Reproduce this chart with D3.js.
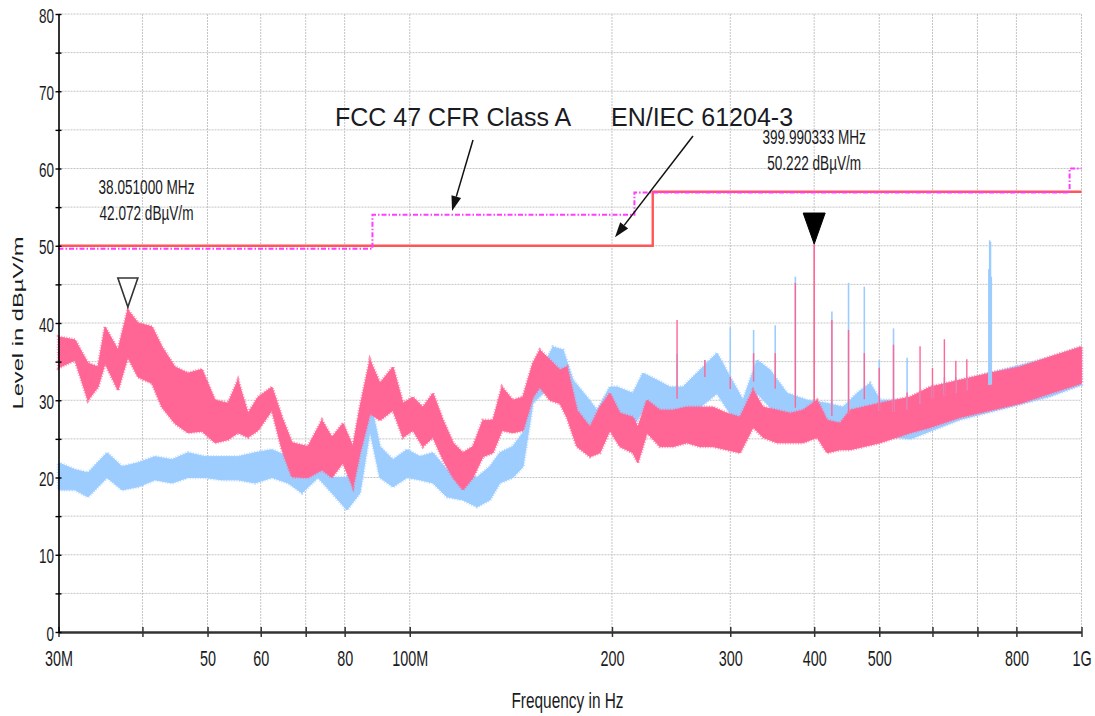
<!DOCTYPE html>
<html>
<head>
<meta charset="utf-8">
<script src="https://cdn.jsdelivr.net/npm/d3@7"></script>
<style>
  body { margin: 0; background: #fff; }
  text { font-family: "Liberation Sans", Arial, sans-serif; fill: #1a1a22; }
</style>
</head>
<body>
<svg id="chart" width="1095" height="716"></svg>
<script>
// ---- axis ticks ----
const xTickFreq = [30, 40, 50, 60, 70, 80, 100, 200, 300, 400, 500, 600, 700, 800, 1000];
const xTickText = ["30M", "", "50", "60", "", "80", "100M", "200", "300", "400", "500", "", "", "800", "1G"];
const yTickLevel = [0, 5, 10, 15, 20, 25, 30, 35, 40, 45, 50, 55, 60, 65, 70, 75, 80];
const yTickText = ["0", "", "10", "", "20", "", "30", "", "40", "", "50", "", "60", "", "70", "", "80"];

// ---- limit lines (MHz, dBµV/m) ----
const enFreq = [30, 230, 1000];
const enLevel = [50, 57, 57];
const fccFreq = [30, 88, 216, 960, 1000];
const fccLevel = [49.6, 54, 56.9, 60, 60];

// ---- measured spectrum, trace 1 (pink): frequency, lower and upper edge of the noise band ----
const pinkFreq = [30.0, 31.75, 33.19, 34.35, 35.19, 36.79, 38.05, 39.40, 41.34, 42.78, 44.72, 46.76, 49.06, 51.30, 53.63, 55.51, 57.44, 59.45, 62.36, 64.54, 66.79, 70.55, 74.02, 76.60, 79.54, 82.31, 84.31, 87.25, 90.29, 94.41, 97.70, 101.1, 104.6, 108.3, 112.1, 116.0, 120.0, 124.2, 128.5, 133.0, 137.2, 142.4, 147.4, 152.5, 156.2, 161.7, 167.3, 171.4, 177.4, 185.5, 191.9, 198.6, 205.5, 214.9, 218.6, 225.5, 235.7, 246.5, 258.6, 270.5, 282.8, 296.7, 310.3, 324.4, 335.7, 352.2, 368.3, 385.1, 404.0, 418.1, 437.1, 452.4, 501.4, 555.6, 595.1, 659.5, 730.9, 810.0, 897.7, 1000];
const pinkLow  = [34.2, 35.2, 30.0, 31.7, 34.8, 31.3, 35.6, 33.0, 32.2, 29.1, 27.0, 25.8, 26.0, 24.5, 24.9, 25.8, 25.2, 26.1, 28.7, 23.6, 20.1, 20.0, 21.0, 20.0, 21.9, 18.8, 23.2, 28.3, 27.4, 28.7, 25.2, 26.1, 24.0, 25.2, 22.3, 20.0, 18.4, 20.0, 22.7, 23.2, 26.1, 25.8, 26.1, 30.4, 31.7, 30.0, 29.6, 27.8, 24.0, 22.7, 23.2, 26.1, 24.0, 23.2, 21.9, 25.8, 24.0, 24.0, 24.5, 24.0, 24.0, 23.6, 23.2, 26.5, 25.2, 24.5, 24.5, 24.5, 25.2, 23.2, 23.6, 23.6, 24.5, 25.8, 26.5, 27.8, 28.7, 29.6, 30.9, 32.2];
const pinkHigh = [38.2, 37.8, 34.8, 34.3, 39.5, 36.5, 41.7, 40.0, 39.5, 36.9, 34.3, 33.5, 34.0, 30.0, 29.6, 32.6, 28.3, 30.4, 31.7, 27.8, 24.5, 24.0, 27.4, 25.2, 27.0, 24.0, 29.1, 35.2, 32.2, 34.3, 29.6, 30.4, 29.1, 30.9, 27.4, 24.5, 23.2, 24.0, 27.4, 27.4, 31.7, 30.0, 30.4, 34.8, 36.5, 35.2, 33.9, 34.3, 28.7, 26.5, 29.1, 30.9, 28.3, 27.8, 26.5, 30.0, 28.7, 28.7, 29.1, 29.1, 29.1, 28.3, 27.8, 31.3, 29.1, 28.7, 28.3, 28.7, 30.0, 27.4, 27.0, 28.7, 29.6, 30.4, 31.7, 32.6, 33.5, 34.3, 35.6, 36.9];

// ---- measured spectrum, trace 2 (light blue) ----
const blueFreq = [30.0, 31.75, 33.19, 35.43, 37.30, 39.40, 41.76, 44.27, 46.76, 49.57, 52.54, 55.51, 58.84, 62.36, 65.88, 69.12, 73.01, 76.60, 80.64, 84.31, 87.25, 90.29, 94.41, 99.05, 103.6, 108.3, 113.6, 120.0, 125.9, 131.6, 136.2, 142.4, 147.4, 152.5, 157.9, 163.4, 169.1, 175.0, 183.6, 190.0, 198.6, 203.4, 214.9, 222.4, 233.3, 244.0, 255.1, 270.5, 286.7, 299.8, 313.5, 328.9, 343.9, 364.5, 390.4, 418.1, 441.6, 463.4, 484.5, 501.4, 555.6, 595.1, 659.5, 730.9, 810.0, 897.7, 1000];
const blueLow  = [18.4, 18.4, 17.5, 20.0, 18.4, 18.8, 19.7, 19.3, 20.0, 20.0, 19.7, 19.7, 19.3, 20.0, 19.3, 18.0, 20.0, 18.0, 15.8, 18.0, 26.1, 20.0, 18.8, 20.0, 19.7, 19.3, 17.5, 17.1, 16.2, 17.1, 19.3, 20.0, 21.4, 29.6, 30.9, 32.6, 32.2, 28.3, 26.5, 24.9, 27.4, 27.4, 26.5, 28.7, 28.7, 28.3, 27.8, 29.1, 30.9, 28.3, 26.5, 30.9, 29.1, 27.0, 27.0, 26.5, 26.1, 27.4, 27.0, 25.5, 25.0, 26.0, 27.5, 28.5, 29.5, 30.5, 32.0];
const blueHigh = [21.9, 21.0, 20.6, 23.2, 21.4, 21.9, 22.7, 22.3, 23.2, 22.7, 22.7, 22.7, 23.2, 23.6, 22.7, 21.0, 22.7, 20.0, 20.0, 23.2, 30.0, 24.0, 22.3, 23.6, 22.7, 23.2, 21.0, 20.6, 20.0, 21.4, 23.2, 24.0, 25.8, 34.3, 34.3, 36.9, 36.5, 32.6, 30.4, 28.7, 31.7, 31.7, 30.9, 33.5, 32.6, 31.7, 31.7, 33.9, 36.1, 33.0, 30.0, 35.2, 33.9, 30.9, 30.0, 29.6, 29.1, 30.9, 32.2, 30.0, 30.0, 31.5, 32.5, 33.5, 34.5, 35.5, 36.9];

// ---- narrowband emissions (MHz, peak dBµV/m; null = not present in that trace) ----
const spikeFreq  = [250, 275, 300, 325, 350, 375, 425, 450, 475, 500, 525, 550, 575, 600, 625, 650, 675, 728, 730, 732, 734];
const spikePink  = [40.4, 35.2, 33.0, 36.1, 36.1, 45.2, 40.4, 39.1, 36.1, 34.2, 37.2, 31.0, 37.0, 34.2, 37.9, 35.1, 35.3, null, null, null, null];
const spikeBlue  = [36.0, 35.2, 39.4, 39.1, 39.7, 46.0, 41.5, 45.2, 44.7, 35.2, 39.3, 35.5, 31.0, 32.0, 33.0, 33.0, 33.0, 47.0, 50.7, 50.5, 46.0];

// ---- peak markers ----
const markerFreq = [38.051, 399.990333];
const markerLevel = [42.072, 50.222];
const markerFilled = [false, true];

// ---- limit annotations ----
const noteText = ["FCC 47 CFR Class A", "EN/IEC 61204-3"];
const noteTipFreq = [115.6, 202.1];
const noteTipLevel = [54.5, 51.1];

const colors = { pink: "#ff6696", blue: "#9dcdff", en: "#ff5757", fcc: "#ff3cff", grid: "#c4c4c4" };

const svg = d3.select("#chart");
svg.append("rect").attr("width", 1095).attr("height", 716).attr("fill", "#fff");

const x = d3.scaleLog().domain([30, 1000]).range([58.5, 1081.5]);
const y = d3.scaleLinear().domain([0, 80]).range([632, 14]);

// Text helper: glyphs are drawn taller than wide (sx, sy stretch)
function label(g, px, py, str, size, opts = {}) {
  const sx = opts.sx ?? 1, sy = opts.sy ?? 1, rot = opts.rot ?? 0;
  return g.append("text")
    .attr("transform", `translate(${px},${py}) rotate(${rot}) scale(${sx},${sy})`)
    .attr("text-anchor", opts.anchor ?? "start")
    .attr("font-size", size)
    .text(str);
}

// ---- grid ----
const grid = svg.append("g");
grid.selectAll("line.v").data(xTickFreq.slice(1)).join("line")
  .attr("x1", d => x(d)).attr("x2", d => x(d))
  .attr("y1", y(80)).attr("y2", y(0))
  .attr("stroke", colors.grid).attr("stroke-dasharray", "2,1");
grid.selectAll("line.h").data(yTickLevel.slice(1)).join("line")
  .attr("x1", x(30)).attr("x2", x(1000))
  .attr("y1", d => y(d)).attr("y2", d => y(d))
  .attr("stroke", colors.grid).attr("stroke-dasharray", "2,1");

// ---- spectrum traces: filled noise band with a speckled fringe ----
function band(freq, lo, hi, color) {
  const pts = freq.map((f, i) => [f, lo[i], hi[i]]);
  const area = d3.area().x(d => x(d[0])).y0(d => y(d[1])).y1(d => y(d[2]));
  const g = svg.append("g");
  g.append("path").datum(pts).attr("d", area)
    .attr("fill", color).attr("stroke", color).attr("stroke-width", 1)
    .attr("stroke-linejoin", "round");
  g.append("path").datum(pts).attr("d", area)
    .attr("fill", "none").attr("stroke", color).attr("stroke-width", 3.5)
    .attr("stroke-dasharray", "1,1.6").attr("opacity", 0.7);
}
band(blueFreq, blueLow, blueHigh, colors.blue);
band(pinkFreq, pinkLow, pinkHigh, colors.pink);

// spike bases start inside the noise bands
const pinkTop = d3.scaleLog().domain(pinkFreq).range(pinkHigh);
const blueTop = d3.scaleLog().domain(blueFreq).range(blueHigh);
const base = f => Math.max(pinkTop(f), blueTop(f)) - 1.5;

const spikes = spikeFreq.map((f, i) => ({ f, pink: spikePink[i], blue: spikeBlue[i] }));
svg.append("g").selectAll("line").data(spikes.filter(d => d.blue !== null)).join("line")
  .attr("x1", d => x(d.f)).attr("x2", d => x(d.f))
  .attr("y1", d => y(base(d.f))).attr("y2", d => y(d.blue))
  .attr("stroke", colors.blue).attr("stroke-width", 1.6);
svg.append("g").selectAll("line").data(spikes.filter(d => d.pink !== null)).join("line")
  .attr("x1", d => x(d.f)).attr("x2", d => x(d.f))
  .attr("y1", d => y(base(d.f))).attr("y2", d => y(d.pink))
  .attr("stroke", colors.pink).attr("stroke-width", 1.4);
// peaks under the markers
svg.append("g").selectAll("line").data(markerFreq).join("line")
  .attr("x1", d => x(d)).attr("x2", d => x(d))
  .attr("y1", d => y(base(d))).attr("y2", (d, i) => y(markerLevel[i]))
  .attr("stroke", colors.pink).attr("stroke-width", 1.6);

// ---- limit lines ----
const step = d3.line().curve(d3.curveStepAfter).x(d => x(d[0])).y(d => y(d[1]));
svg.append("path").datum(enFreq.map((f, i) => [f, enLevel[i]])).attr("d", step)
  .attr("fill", "none").attr("stroke", colors.en).attr("stroke-width", 2.4);
svg.append("path").datum(fccFreq.map((f, i) => [f, fccLevel[i]])).attr("d", step)
  .attr("fill", "none").attr("stroke", colors.fcc).attr("stroke-width", 2)
  .attr("stroke-dasharray", "5,2,1.5,2");

// ---- axes ----
const xAxis = svg.append("g").attr("transform", `translate(0,${y(0)})`)
  .call(d3.axisBottom(x).tickValues(xTickFreq).tickSizeOuter(0)
    .tickFormat((d, i) => xTickText[i]));
xAxis.select(".domain").attr("stroke", "#333").attr("stroke-width", 2.5);
xAxis.selectAll(".tick line").attr("y1", -5).attr("y2", 5).attr("stroke", "#333").attr("stroke-width", 1.5);
xAxis.selectAll(".tick text")
  .attr("y", 0).attr("dy", null)
  .attr("transform", "translate(0,34) scale(1,1.5)")
  .attr("font-size", 14.4).attr("font-family", "Liberation Sans, Arial, sans-serif")
  .attr("fill", "#1a1a22");

const yAxis = svg.append("g").attr("transform", `translate(${x(30)},0)`)
  .call(d3.axisLeft(y).tickValues(yTickLevel).tickSizeOuter(0)
    .tickFormat((d, i) => yTickText[i]));
yAxis.select(".domain").attr("stroke", "#000").attr("stroke-width", 1.6);
yAxis.selectAll(".tick line").attr("x1", -3).attr("x2", 3).attr("stroke", "#000").attr("stroke-width", 1.4);
yAxis.selectAll(".tick text")
  .attr("x", 0).attr("dy", null)
  .attr("transform", "translate(-4.5,8) scale(1,1.55)")
  .attr("font-size", 13.5).attr("font-family", "Liberation Sans, Arial, sans-serif")
  .attr("fill", "#1a1a22");

// axis titles
label(svg, 567.5, 708, "Frequency in Hz", 15.4, { sy: 1.48, anchor: "middle" });
label(svg, 23, 323, "Level in dBµV/m", 15.4, { rot: -90, sx: 1.54, anchor: "middle" });

// ---- markers ----
const mk = svg.append("g");
markerFreq.forEach((f, i) => {
  const tx = x(f), ty = y(markerLevel[i]);
  const w = markerFilled[i] ? 11 : 10, h = markerFilled[i] ? 31 : 29;
  mk.append("path")
    .attr("d", `M${tx},${ty} L${tx - w},${ty - h} L${tx + w},${ty - h} Z`)
    .attr("fill", markerFilled[i] ? "#000" : "#fff")
    .attr("stroke", markerFilled[i] ? "#000" : "#333")
    .attr("stroke-width", markerFilled[i] ? 1 : 1.6);
  // readout: centre clamped so it stays inside the plot
  const cx = Math.max(tx, x(30) + 88);
  const top = markerFilled[i] ? ty - 100 : ty - 113;
  label(mk, cx, top, `${f.toFixed(6)} MHz`, 13.6, { sy: 1.45, anchor: "middle" });
  label(mk, cx, top + 26, `${markerLevel[i].toFixed(3)} dBµV/m`, 13.6, { sy: 1.45, anchor: "middle" });
});

// ---- limit annotations with arrows ----
const notePos = [{ tx: 335, ty: 126, ax: 473, ay: 140 }, { tx: 611, ty: 126, ax: 693, ay: 136 }];
const ann = svg.append("g");
noteText.forEach((t, i) => {
  const p = notePos[i];
  ann.append("text").attr("x", p.tx).attr("y", p.ty).attr("font-size", 25).attr("fill", "#111").text(t);
  const ex = x(noteTipFreq[i]), ey = y(noteTipLevel[i]);
  const ang = Math.atan2(ey - p.ay, ex - p.ax);
  const L = 15, W = 5;
  const bx = ex - L * Math.cos(ang), by = ey - L * Math.sin(ang);
  ann.append("line").attr("x1", p.ax).attr("y1", p.ay).attr("x2", bx).attr("y2", by)
    .attr("stroke", "#111").attr("stroke-width", 1.5);
  ann.append("path")
    .attr("d", `M${ex},${ey} L${bx - W * Math.sin(ang)},${by + W * Math.cos(ang)} L${bx + W * Math.sin(ang)},${by - W * Math.cos(ang)} Z`)
    .attr("fill", "#111");
});
</script>
</body>
</html>
